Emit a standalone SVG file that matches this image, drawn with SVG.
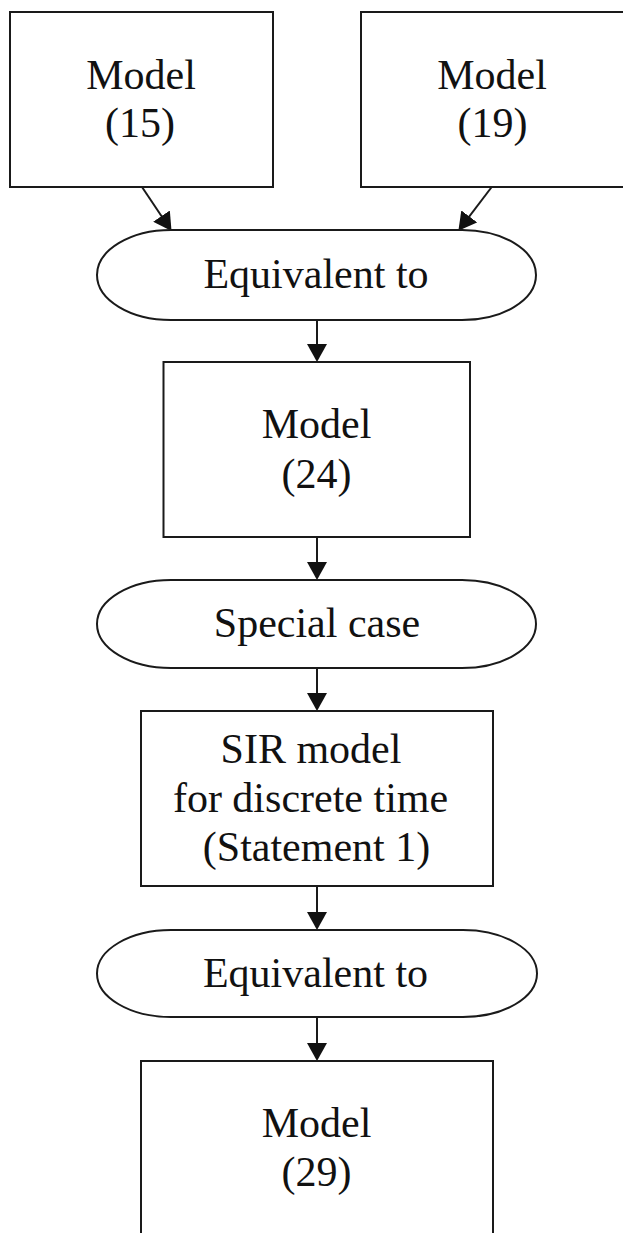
<svg xmlns="http://www.w3.org/2000/svg" width="623" height="1233" viewBox="0 0 623 1233">
  <defs>
    <marker id="arrow" viewBox="0 0 18 20" refX="14" refY="10" markerWidth="18" markerHeight="20" markerUnits="userSpaceOnUse" orient="auto">
      <path d="M0,0 L18,10 L0,20 Z" fill="#111"/>
    </marker>
  </defs>
  <style>
    .box { fill: #fff; stroke: #1a1a1a; stroke-width: 2; }
    .edge { stroke: #1a1a1a; stroke-width: 2; fill: none; marker-end: url(#arrow); }
    .label { font-family: "Liberation Serif", "Times New Roman", serif; font-size: 42px; fill: #111; text-anchor: middle; }
  </style>
  <rect width="623" height="1233" fill="#fff"/>

  <g id="connectors">
    <line class="edge" x1="142" y1="187" x2="169.3" y2="227.7"/>
    <line class="edge" x1="491.7" y1="187" x2="460.8" y2="227.6"/>
    <line class="edge" x1="317" y1="320" x2="317" y2="358"/>
    <line class="edge" x1="317" y1="537" x2="317" y2="576"/>
    <line class="edge" x1="317" y1="668" x2="317" y2="707"/>
    <line class="edge" x1="317" y1="886" x2="317" y2="926"/>
    <line class="edge" x1="317" y1="1017" x2="317" y2="1057"/>
  </g>

  <g id="model15">
    <rect class="box" x="10" y="12" width="263" height="175"/>
    <text class="label" x="141" y="89">Model</text>
    <text class="label" x="140" y="137">(15)</text>
  </g>

  <g id="model19">
    <rect class="box" x="361" y="12" width="263" height="175"/>
    <text class="label" x="492" y="89">Model</text>
    <text class="label" x="492.5" y="137">(19)</text>
  </g>

  <g id="equivalent1">
    <rect class="box" x="97" y="230" width="439" height="90" rx="74" ry="45"/>
    <text class="label" x="316" y="288">Equivalent to</text>
  </g>

  <g id="model24">
    <rect class="box" x="163.5" y="362" width="306.5" height="175"/>
    <text class="label" x="316.5" y="438">Model</text>
    <text class="label" x="316.5" y="488">(24)</text>
  </g>

  <g id="special-case">
    <rect class="box" x="97" y="580" width="439" height="88" rx="74" ry="44"/>
    <text class="label" x="317" y="637">Special case</text>
  </g>

  <g id="sir-discrete">
    <rect class="box" x="141" y="711" width="352" height="175"/>
    <text class="label" x="311" y="763">SIR model</text>
    <text class="label" x="310.5" y="812">for discrete time</text>
    <text class="label" x="316.5" y="861">(Statement 1)</text>
  </g>

  <g id="equivalent2">
    <rect class="box" x="97" y="930" width="440" height="87" rx="74" ry="43.5"/>
    <text class="label" x="315.5" y="987">Equivalent to</text>
  </g>

  <g id="model29">
    <rect class="box" x="141" y="1061" width="352" height="200"/>
    <text class="label" x="316.5" y="1137">Model</text>
    <text class="label" x="316.5" y="1186">(29)</text>
  </g>
</svg>
